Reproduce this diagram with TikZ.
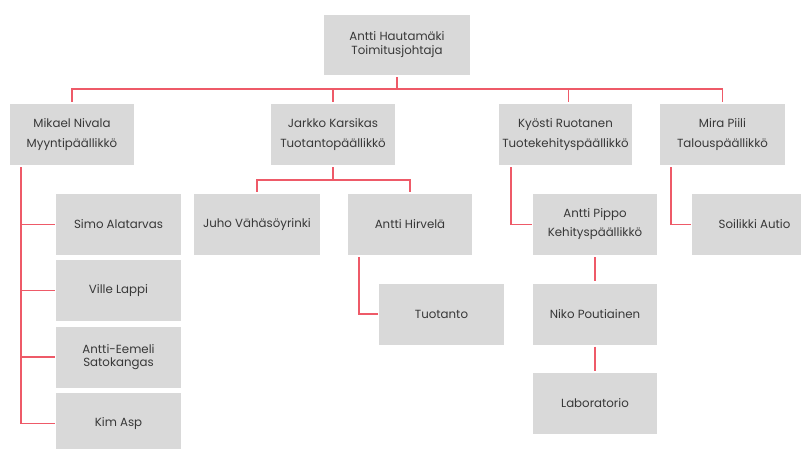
\documentclass[tikz,border=0pt]{standalone}
\usepackage{fontspec}
\setmainfont{Poppins}
\usetikzlibrary{calc}
\definecolor{boxgray}{RGB}{217,217,217}
\definecolor{linered}{RGB}{238,90,104}
\definecolor{txtgray}{RGB}{56,56,56}
\tikzset{
  box/.style={fill=boxgray, draw=none, minimum width=125pt, minimum height=61pt, inner sep=0pt,
    align=center, text=txtgray, font=\fontsize{11.8}{16}\selectfont},
  conn/.style={draw=linered, line width=1.9pt, shorten <=2pt, shorten >=2pt},
}
\begin{document}
\begin{tikzpicture}[x=1pt,y=-1pt]
\useasboundingbox (0,0) rectangle (801,448);
% top
\node[box, minimum width=146pt, minimum height=60pt, font=\fontsize{11.8}{14}\selectfont] (ceo) at (397,45) {Antti Hautamäki\\Toimitusjohtaja};
% level 2
\node[box, minimum width=124pt, minimum height=61pt, font=\fontsize{11.8}{20}\selectfont] (mik) at (72,134.5) {Mikael Nivala\\Myyntipäällikkö};
\node[box, minimum width=124pt, minimum height=61pt, font=\fontsize{11.8}{20}\selectfont] (jar) at (333,134.5) {Jarkko Karsikas\\Tuotantopäällikkö};
\node[box, minimum width=133pt, minimum height=61pt, font=\fontsize{11.8}{20}\selectfont] (kyo) at (565.5,134.5) {Kyösti Ruotanen\\Tuotekehityspäällikkö};
\node[box, minimum width=125pt, minimum height=61pt, font=\fontsize{11.8}{20}\selectfont] (mir) at (722.5,134.5) {Mira Piili\\Talouspäällikkö};
% Mikael's team
\node[box] (sim) at (118.5,224.5) {Simo Alatarvas};
\node[box] (vil) at (118.5,290.5) {Ville Lappi};
\node[box, font=\fontsize{11.8}{13}\selectfont] (aes) at (118.5,357) {Antti-Eemeli\\Satokangas};
\node[box] (kim) at (118.5,423.5) {Kim Asp};
% Jarkko's team
\node[box, minimum width=126pt] (juh) at (257,224.5) {Juho Vähäsöyrinki};
\node[box, minimum width=124pt] (hir) at (410,224.5) {Antti Hirvelä};
\node[box] (tuo) at (441.5,314) {Tuotanto};
% Kyösti's team
\node[box, minimum width=124pt, font=\fontsize{11.8}{19}\selectfont] (pip) at (595,224.5) {Antti Pippo\\Kehityspäällikkö};
\node[box, minimum width=124pt] (nik) at (595,314) {Niko Poutiainen};
\node[box, minimum width=124pt] (lab) at (595,403.5) {Laboratorio};
% Mira's team
\node[box] (soi) at (754.5,224.5) {Soilikki Autio};
% connectors
\coordinate (bar) at (0,89);
\coordinate (kyotop) at ($(kyo.north)+(3,0)$);
\foreach \n in {mik.north,jar.north,kyotop,mir.north}{
  \draw[conn] (ceo.south) |- (bar -| \n) -- (\n);
}
\coordinate (mikv) at ($(mik.south west)+(11,0)$);
\foreach \n in {sim,vil,aes,kim}{
  \draw[conn, shorten >=1pt] (mikv) |- (\n.west);
}
\coordinate (jbar) at (0,180);
\foreach \n in {juh,hir}{
  \draw[conn] (jar.south) |- (jbar -| \n.north) -- (\n.north);
}
\draw[conn, shorten >=1pt] ($(hir.south west)+(11,0)$) |- (tuo.west);
\draw[conn, shorten >=1pt] ($(kyo.south west)+(12,0)$) |- (pip.west);
\draw[conn] (pip.south) -- (nik.north);
\draw[conn] (nik.south) -- (lab.north);
\draw[conn, shorten >=1pt] ($(mir.south west)+(11,0)$) |- (soi.west);
\end{tikzpicture}
\end{document}
